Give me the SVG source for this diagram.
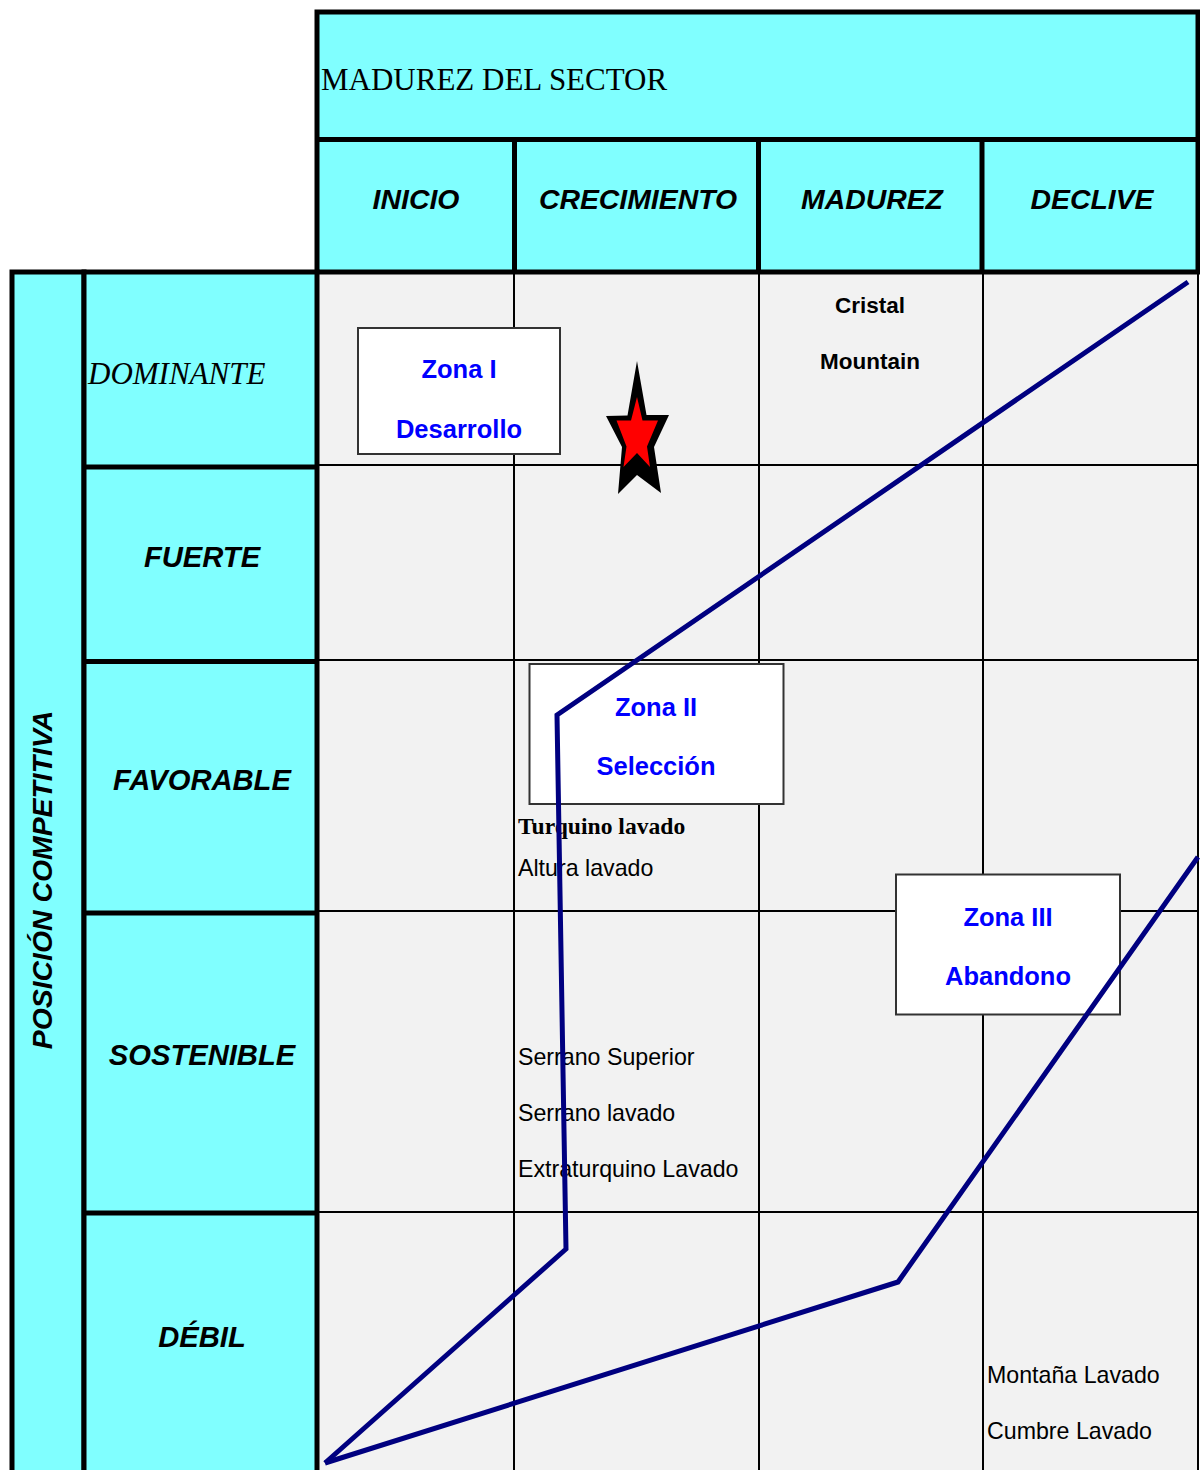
<svg xmlns="http://www.w3.org/2000/svg" width="1200" height="1470" viewBox="0 0 1200 1470">
  <defs>
    <style>
      .cyan { fill: #80ffff; }
      .thick { stroke: #000; stroke-width: 5; fill: none; }
      .thin { stroke: #000; stroke-width: 2; fill: none; }
      .head { font-family: "Liberation Sans", Arial, sans-serif; font-weight: bold; font-style: italic; font-size: 28.4px; fill: #000; text-anchor: middle; }
      .rowHead { font-size: 29.2px; }
      .serif { font-family: "Liberation Serif", "Times New Roman", serif; font-size: 31px; fill: #000; }
      .zone { fill: #ffffff; stroke: #333; stroke-width: 2; }
      .zoneText { font-family: "Liberation Sans", Arial, sans-serif; font-weight: bold; font-size: 25.5px; fill: #0000ff; text-anchor: middle; }
      .item { font-family: "Liberation Sans", Arial, sans-serif; font-size: 23.2px; fill: #000; }
      .itemBold { font-family: "Liberation Sans", Arial, sans-serif; font-weight: bold; font-size: 22.5px; fill: #000; text-anchor: middle; }
      .itemSerif { font-family: "Liberation Serif", "Times New Roman", serif; font-weight: bold; font-size: 23.6px; fill: #000; }
      .curve { stroke: #000080; stroke-width: 5; fill: none; stroke-linejoin: miter; }
    </style>
  </defs>

  <rect width="1200" height="1470" fill="#ffffff"/>

  <!-- matrix body -->
  <g id="grid">
    <rect x="317" y="272" width="881" height="1200" fill="#f2f2f2"/>
    <line class="thin" x1="317" y1="465" x2="1198" y2="465"/>
    <line class="thin" x1="317" y1="660" x2="1198" y2="660"/>
    <line class="thin" x1="317" y1="911" x2="1198" y2="911"/>
    <line class="thin" x1="317" y1="1212" x2="1198" y2="1212"/>
    <line class="thin" x1="514" y1="272" x2="514" y2="1470"/>
    <line class="thin" x1="759" y1="272" x2="759" y2="1470"/>
    <line class="thin" x1="983" y1="272" x2="983" y2="1470"/>
    <line class="thin" x1="1198" y1="272" x2="1198" y2="1470"/>
  </g>

  <!-- sector maturity header -->
  <g id="header-sector">
    <rect class="cyan" x="317" y="12" width="881" height="260"/>
    <rect class="thick" x="317" y="12" width="881" height="260"/>
    <line class="thick" x1="317" y1="139.5" x2="1198" y2="139.5"/>
    <text class="serif" x="321" y="90">MADUREZ DEL SECTOR</text>
  </g>

  <g id="col-inicio">
    <text class="head" x="416" y="209">INICIO</text>
  </g>
  <g id="col-crecimiento">
    <line class="thick" x1="514.5" y1="139.5" x2="514.5" y2="272"/>
    <text class="head" x="638" y="209">CRECIMIENTO</text>
  </g>
  <g id="col-madurez">
    <line class="thick" x1="758.5" y1="139.5" x2="758.5" y2="272"/>
    <text class="head" x="872" y="209">MADUREZ</text>
  </g>
  <g id="col-declive">
    <line class="thick" x1="982" y1="139.5" x2="982" y2="272"/>
    <text class="head" x="1092" y="209">DECLIVE</text>
  </g>

  <!-- competitive position axis -->
  <g id="axis-posicion">
    <rect class="cyan" x="12" y="272" width="72" height="1202"/>
    <rect class="thick" x="12" y="272" width="72" height="1202"/>
    <text class="head" font-size="28.7px" transform="translate(52 880) rotate(-90)">POSICIÓN COMPETITIVA</text>
  </g>

  <g id="row-labels">
    <rect class="cyan" x="84" y="272" width="233" height="1202"/>
    <rect class="thick" x="84" y="272" width="233" height="1202"/>
    <line class="thick" x1="84" y1="467" x2="317" y2="467"/>
    <line class="thick" x1="84" y1="661.5" x2="317" y2="661.5"/>
    <line class="thick" x1="84" y1="913" x2="317" y2="913"/>
    <line class="thick" x1="84" y1="1213" x2="317" y2="1213"/>
  </g>
  <g id="row-dominante">
    <text class="serif" x="88" y="384" font-style="italic">DOMINANTE</text>
  </g>
  <g id="row-fuerte">
    <text class="head rowHead" x="202" y="567">FUERTE</text>
  </g>
  <g id="row-favorable">
    <text class="head rowHead" x="202" y="790">FAVORABLE</text>
  </g>
  <g id="row-sostenible">
    <text class="head rowHead" x="202" y="1065">SOSTENIBLE</text>
  </g>
  <g id="row-debil">
    <text class="head rowHead" x="202" y="1347">DÉBIL</text>
  </g>

  <!-- product entries -->
  <g id="item-cristal">
    <text class="itemBold" x="870" y="313">Cristal</text>
    <text class="itemBold" x="870" y="369">Mountain</text>
  </g>
  <g id="item-turquino">
    <text class="itemSerif" x="518" y="834">Turquino lavado</text>
  </g>
  <g id="item-altura">
    <text class="item" x="518" y="876">Altura lavado</text>
  </g>
  <g id="item-serrano">
    <text class="item" x="518" y="1065">Serrano Superior</text>
    <text class="item" x="518" y="1121">Serrano lavado</text>
    <text class="item" x="518" y="1177">Extraturquino Lavado</text>
  </g>
  <g id="item-montana">
    <text class="item" x="987" y="1383">Montaña Lavado</text>
    <text class="item" x="987" y="1439">Cumbre Lavado</text>
  </g>

  <!-- zone captions -->
  <g id="zona-1">
    <rect class="zone" x="358" y="328" width="202" height="126"/>
    <text class="zoneText" x="459" y="378">Zona I</text>
    <text class="zoneText" x="459" y="438">Desarrollo</text>
  </g>
  <g id="zona-2">
    <rect class="zone" x="529.5" y="664" width="254" height="140"/>
    <text class="zoneText" x="656" y="716">Zona II</text>
    <text class="zoneText" x="656" y="775">Selección</text>
  </g>
  <g id="zona-3">
    <rect class="zone" x="896" y="874.5" width="224" height="140"/>
    <text class="zoneText" x="1008" y="926">Zona III</text>
    <text class="zoneText" x="1008" y="985">Abandono</text>
  </g>

  <!-- zone boundaries -->
  <g id="connectors">
    <polyline class="curve" points="1188,282 557,715 566,1249 325,1463"/>
    <polyline class="curve" points="1198,857 898,1282 325,1463"/>
  </g>

  <!-- current position marker -->
  <g id="star">
    <polygon fill="#000" points="637,361 646.5,415 669,415 654,447 661,493 637,475 618,494 622,447 606,416 627.5,415.5"/>
    <polygon fill="#ff0000" points="637,397 642.5,420.5 658,420.5 647,446.5 650,467 637,453 623.5,467 626.5,446.5 616.5,420.5 631,420.5"/>
  </g>
</svg>
